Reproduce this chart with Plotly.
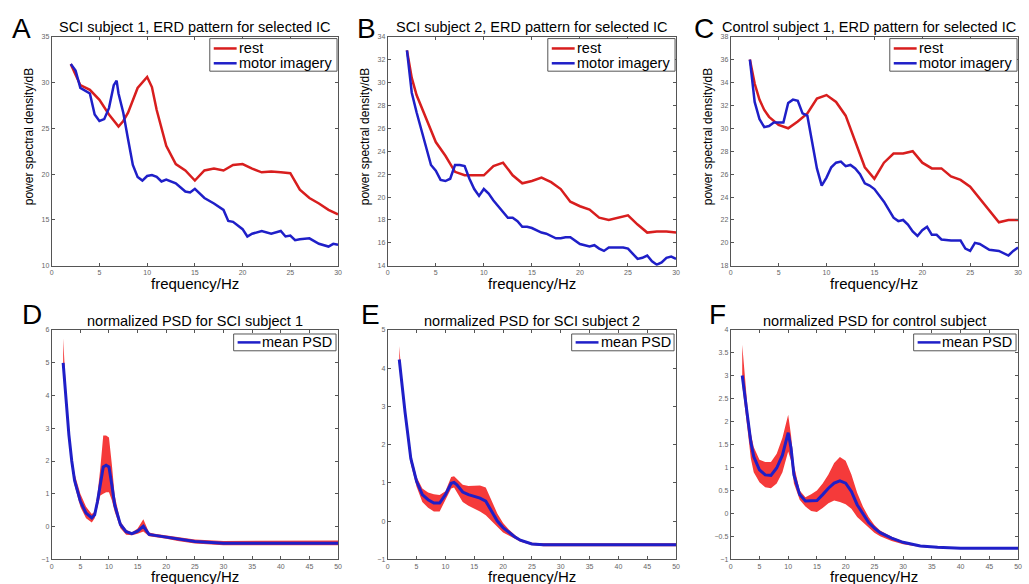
import plotly.graph_objects as go

# ---------------- ERD spectra (top row) ----------------
a_rest_f = [2, 3, 4, 5, 6, 7, 7.5, 8, 9, 10, 10.5, 11, 12, 13, 14, 15, 16, 17, 18, 19, 20,
            21, 22, 23, 24, 25, 26, 27, 28, 29, 30]
a_rest = [32.0, 29.7, 29.2, 28.1, 26.5, 25.2, 25.8, 26.7, 29.4, 30.6, 29.5, 27.0, 23.1, 21.1,
          20.4, 19.3, 20.4, 20.6, 20.4, 21.0, 21.1, 20.6, 20.2, 20.3, 20.2, 20.1, 18.3, 17.4,
          16.8, 16.1, 15.6]
a_mi_f = [2, 2.5, 3, 3.5, 4, 4.5, 5, 5.5, 6, 6.5, 6.8, 7, 7.5, 8, 8.5, 9, 9.5, 10, 10.5, 11,
          11.5, 12, 13, 14, 14.5, 15, 16, 17, 18, 18.5, 19, 20, 20.5, 21, 22, 23, 24, 24.5, 25,
          25.5, 26, 27, 28, 29, 29.5, 30]
a_mi = [32.0, 31.3, 29.4, 29.1, 28.8, 26.5, 25.8, 26.0, 27.2, 29.7, 30.2, 28.8, 26.7, 23.8,
        21.0, 19.7, 19.3, 19.8, 19.9, 19.7, 19.2, 19.4, 19.0, 18.1, 18.0, 18.4, 17.4, 16.8,
        16.1, 14.9, 14.8, 14.0, 13.2, 13.5, 13.8, 13.5, 13.8, 13.2, 13.3, 12.8, 12.9, 13.0,
        12.4, 12.1, 12.4, 12.3]

b_rest_f = [2, 2.5, 3, 4, 5, 6, 7, 8, 9, 10, 11, 12, 13, 14, 15, 16, 17, 18, 19, 20, 21, 22,
            23, 24, 25, 26, 27, 28, 29, 30]
b_rest = [32.8, 30.4, 28.9, 26.9, 24.8, 23.6, 22.2, 21.9, 21.9, 21.9, 22.7, 23.0, 21.9, 21.2,
          21.4, 21.7, 21.3, 20.7, 19.6, 19.2, 18.9, 18.2, 18.0, 18.2, 18.4, 17.6, 16.9, 17.0,
          17.0, 16.9]
b_mi_f = [2, 2.5, 3, 4, 4.5, 5, 5.5, 6, 6.5, 7, 7.5, 8, 8.5, 9, 9.5, 10, 10.5, 11, 12, 12.5,
          13, 13.5, 14, 14.5, 15, 16, 16.5, 17, 17.5, 18, 18.5, 19, 19.5, 20, 21, 21.5, 22,
          22.5, 23, 24, 24.5, 25, 25.5, 26, 26.5, 27, 27.5, 28, 28.5, 29, 29.5, 30]
b_mi = [32.8, 29.1, 27.4, 24.2, 22.8, 22.3, 21.5, 21.4, 21.6, 22.8, 22.8, 22.7, 21.6, 20.7,
        20.1, 20.7, 20.3, 19.7, 18.7, 18.2, 18.2, 17.9, 17.4, 17.4, 17.3, 16.9, 16.8, 16.6,
        16.4, 16.4, 16.5, 16.5, 16.2, 15.9, 15.7, 15.8, 15.5, 15.3, 15.6, 15.6, 15.6, 15.5,
        15.0, 14.6, 14.7, 14.9, 14.4, 14.1, 14.3, 14.7, 14.8, 14.6]

c_rest_f = [2, 2.5, 3, 3.5, 4, 5, 6, 7, 8, 9, 10, 11, 12, 13, 14, 15, 16, 17, 18, 19, 20, 21,
            22, 23, 24, 25, 26, 27, 28, 29, 30]
c_rest = [36.0, 33.9, 32.5, 31.6, 31.0, 30.3, 30.0, 30.6, 31.3, 32.6, 32.9, 32.3, 31.1, 28.8,
          26.6, 25.6, 27.0, 27.8, 27.8, 28.0, 27.0, 26.5, 26.5, 25.8, 25.5, 24.9, 23.9, 22.9,
          21.8, 22.0, 22.0]
c_mi_f = [2, 2.5, 3, 3.5, 4, 4.5, 5, 5.5, 6, 6.5, 7, 7.5, 8, 8.5, 9, 9.5, 10, 10.5, 11, 11.5,
          12, 12.5, 13, 13.5, 14, 14.5, 15, 16, 17, 17.5, 18, 18.5, 19, 19.5, 20, 20.5, 21,
          21.5, 22, 23, 24, 24.5, 25, 25.5, 26, 27, 28, 29, 29.5, 30]
c_mi = [36.0, 32.3, 30.8, 30.1, 30.2, 30.5, 30.5, 30.5, 32.2, 32.5, 32.4, 31.3, 31.1, 28.8,
        26.5, 25.0, 25.7, 26.6, 27.0, 27.1, 26.7, 26.8, 26.5, 26.0, 25.2, 25.0, 24.7, 23.6,
        22.2, 21.9, 22.0, 21.6, 21.0, 20.6, 21.1, 21.4, 20.7, 20.7, 20.3, 20.2, 20.2, 19.5,
        19.3, 20.0, 19.9, 19.4, 19.3, 18.9, 19.3, 19.6]

# ---------------- normalized PSD (bottom row) ----------------
d_f = [2, 2.5, 3, 3.5, 4, 5, 6, 7, 7.5, 8, 8.5, 9, 9.5, 10, 10.5, 11, 12, 13, 14, 15, 16, 17,
       18, 20, 22, 25, 30, 35, 40, 50]
d_mean = [5.0, 3.9, 2.8, 2.0, 1.4, 0.77, 0.41, 0.26, 0.36, 0.77, 1.37, 1.82, 1.87, 1.82, 1.27,
          0.66, 0.06, -0.16, -0.22, -0.14, 0.01, -0.24, -0.27, -0.32, -0.39, -0.46, -0.51,
          -0.51, -0.51, -0.51]
d_upper = [5.75, 4.1, 2.95, 2.15, 1.6, 1.0, 0.6, 0.38, 0.45, 1.0, 1.8, 2.78, 2.78, 2.72, 1.9,
           0.95, 0.15, -0.1, -0.18, -0.06, 0.22, -0.18, -0.22, -0.27, -0.33, -0.4, -0.44,
           -0.44, -0.43, -0.43]
d_lower = [4.95, 3.7, 2.65, 1.85, 1.25, 0.6, 0.25, 0.12, 0.25, 0.6, 0.95, 1.0, 1.05, 1.05, 0.8,
           0.45, -0.05, -0.25, -0.27, -0.22, -0.15, -0.3, -0.32, -0.37, -0.44, -0.52, -0.57,
           -0.57, -0.57, -0.57]

e_f = [2, 2.5, 3, 3.5, 4, 5, 6, 7, 8, 9, 10, 11, 11.5, 12, 13, 14, 15, 16, 17, 18, 19, 20, 21,
       22, 23, 24, 25, 27, 30, 50]
e_mean = [4.23, 3.45, 2.85, 2.25, 1.64, 1.04, 0.69, 0.56, 0.47, 0.47, 0.69, 0.99, 1.01, 0.95,
          0.76, 0.69, 0.65, 0.60, 0.52, 0.26, 0.0, -0.17, -0.30, -0.41, -0.50, -0.56, -0.60,
          -0.62, -0.62, -0.62]
e_upper = [4.58, 3.6, 2.95, 2.35, 1.75, 1.15, 0.85, 0.75, 0.7, 0.68, 0.78, 1.15, 1.17, 1.1,
           0.95, 0.92, 0.92, 0.93, 0.88, 0.55, 0.2, -0.05, -0.22, -0.36, -0.47, -0.53, -0.57,
           -0.58, -0.58, -0.58]
e_lower = [4.1, 3.3, 2.7, 2.1, 1.5, 0.9, 0.5, 0.35, 0.25, 0.25, 0.55, 0.85, 0.88, 0.75, 0.5,
           0.4, 0.33, 0.25, 0.15, 0.0, -0.15, -0.3, -0.38, -0.47, -0.54, -0.59, -0.63, -0.66,
           -0.66, -0.66]

f_f = [2, 2.5, 3, 3.5, 4, 5, 6, 7, 8, 9, 10, 10.5, 11, 12, 13, 14, 15, 16, 17, 18, 19, 20, 21,
       22, 23, 24, 25, 26, 28, 30, 33, 36, 40, 50]
f_mean = [3.01, 2.5, 1.99, 1.56, 1.24, 0.95, 0.84, 0.83, 0.99, 1.27, 1.76, 1.42, 0.84, 0.41,
          0.27, 0.27, 0.28, 0.41, 0.55, 0.66, 0.71, 0.66, 0.48, 0.19, -0.02, -0.2, -0.32,
          -0.42, -0.54, -0.63, -0.71, -0.74, -0.76, -0.76]
f_upper = [3.68, 2.9, 2.2, 1.75, 1.45, 1.17, 1.12, 1.12, 1.3, 1.65, 2.15, 1.7, 1.05, 0.5, 0.35,
           0.42, 0.5, 0.65, 0.85, 1.1, 1.23, 1.15, 0.85, 0.45, 0.15, -0.08, -0.25, -0.37,
           -0.51, -0.61, -0.7, -0.73, -0.75, -0.75]
f_lower = [2.8, 2.2, 1.75, 1.2, 0.9, 0.68, 0.57, 0.55, 0.65, 0.9, 1.35, 1.15, 0.65, 0.3, 0.15,
           0.05, 0.03, 0.12, 0.22, 0.28, 0.25, 0.2, 0.1, -0.08, -0.2, -0.32, -0.42, -0.5, -0.6,
           -0.67, -0.73, -0.76, -0.77, -0.77]

top_titles = ["SCI subject 1, ERD pattern for selected IC",
              "SCI subject 2, ERD pattern for selected IC",
              "Control subject 1, ERD pattern for selected IC"]
bottom_titles = ["normalized PSD for SCI subject 1",
                 "normalized PSD for SCI subject 2",
                 "normalized PSD for control subject"]
letters = ["A", "B", "C", "D", "E", "F"]
top_series_names = ["rest", "motor imagery"]
bottom_series_name = "mean PSD"

top_y_ranges = [(10, 35, 5), (14, 34, 2), (18, 38, 2)]
bottom_y_ranges = [(-1, 6, 1), (-1, 5, 1), (-1, 4, 0.5)]

RED = "#d81e1e"
BLUE = "#1f1fc8"
BAND = "#f53a3a"
AXIS = "#555"
W, H = 1029, 584
FONT = "Liberation Sans, Arial, sans-serif"

# pixel boxes of the six panels: (left, right) per column, (top, bottom) per row
col_px = [(50, 338), (388, 678), (733, 1022)]
row_px = [(33, 265), (330, 562)]
letter_px = [(10, 25), (357, 25), (696, 25), (20, 314), (361, 314), (711, 314)]

fig = go.Figure()
layout = dict(width=W, height=H, margin=dict(l=0, r=0, t=0, b=0),
              paper_bgcolor="white", plot_bgcolor="white", showlegend=False)
annotations = []
shapes = []


def px_x(x):
    return x / W


def px_y(y):
    return 1 - y / H


def label(x, y, text, size, angle=0, xanchor="center"):
    return dict(x=px_x(x), y=px_y(y), xref="paper", yref="paper", text=text,
                showarrow=False, xanchor=xanchor, yanchor="middle", textangle=angle,
                font=dict(family=FONT, size=size, color="black"))


def axis_style(dom, rng, dtick, anchor):
    return dict(domain=dom, range=list(rng), dtick=dtick, tick0=rng[0], anchor=anchor,
                showgrid=False, zeroline=False, showline=True, linecolor=AXIS,
                linewidth=1, mirror="ticks", ticks="inside", ticklen=3, tickcolor=AXIS,
                tickfont=dict(family=FONT, size=7, color="#666"))


def legend_box(x0, x1, y0, y1, entries):
    """Boxed key in the top-right corner of a panel: entries are (name, colour, row_y)."""
    shapes.append(dict(type="rect", xref="paper", yref="paper",
                       x0=px_x(x0), x1=px_x(x1), y0=px_y(y1), y1=px_y(y0),
                       line=dict(color=AXIS, width=1), fillcolor="white", layer="above"))
    for name, color, ry in entries:
        shapes.append(dict(type="line", xref="paper", yref="paper",
                           x0=px_x(x0 + 4), x1=px_x(x0 + 27), y0=px_y(ry), y1=px_y(ry),
                           line=dict(color=color, width=2.5), layer="above"))
        annotations.append(label(x0 + 27, ry, name, 14.5, xanchor="left"))


top_data = [
    (a_rest_f, a_rest, a_mi_f, a_mi),
    (b_rest_f, b_rest, b_mi_f, b_mi),
    (c_rest_f, c_rest, c_mi_f, c_mi),
]
bottom_data = [
    (d_f, d_mean, d_upper, d_lower),
    (e_f, e_mean, e_upper, e_lower),
    (f_f, f_mean, f_upper, f_lower),
]

idx = 0
for r in range(2):
    for c in range(3):
        idx += 1
        xa = "x" if idx == 1 else f"x{idx}"
        ya = "y" if idx == 1 else f"y{idx}"
        xkey = "xaxis" if idx == 1 else f"xaxis{idx}"
        ykey = "yaxis" if idx == 1 else f"yaxis{idx}"
        left, right = col_px[c]
        top, bottom = row_px[r]
        xdom = [px_x(left), px_x(right)]
        ydom = [px_y(bottom), px_y(top)]
        if r == 0:
            xr, xd = (0, 30), 5
            y0, y1, yd = top_y_ranges[c]
        else:
            xr, xd = (0, 50), 5
            y0, y1, yd = bottom_y_ranges[c]
        layout[xkey] = axis_style(xdom, xr, xd, ya)
        layout[ykey] = axis_style(ydom, (y0, y1), yd, xa)

        if r == 0:
            rf, rv, mf, mv = top_data[c]
            fig.add_trace(go.Scatter(x=rf, y=rv, mode="lines", name=top_series_names[0],
                                     line=dict(color=RED, width=2.5), xaxis=xa, yaxis=ya))
            fig.add_trace(go.Scatter(x=mf, y=mv, mode="lines", name=top_series_names[1],
                                     line=dict(color=BLUE, width=2.5), xaxis=xa, yaxis=ya))
            legend_box(right - 129, right - 1, top + 2, top + 35,
                       [(top_series_names[0], RED, top + 12),
                        (top_series_names[1], BLUE, top + 27)])
        else:
            ff, fm, fu, fl = bottom_data[c]
            fig.add_trace(go.Scatter(x=ff, y=fu, mode="lines", line=dict(width=0, color=BAND),
                                     xaxis=xa, yaxis=ya, hoverinfo="skip"))
            fig.add_trace(go.Scatter(x=ff, y=fl, mode="lines", line=dict(width=0, color=BAND),
                                     fill="tonexty", fillcolor=BAND,
                                     xaxis=xa, yaxis=ya, hoverinfo="skip"))
            fig.add_trace(go.Scatter(x=ff, y=fm, mode="lines", name=bottom_series_name,
                                     line=dict(color=BLUE, width=3), xaxis=xa, yaxis=ya))
            legend_box(right - 105, right - 2, top + 4, top + 21,
                       [(bottom_series_name, BLUE, top + 12.5)])

        cx = (left + right) / 2
        title = top_titles[c] if r == 0 else bottom_titles[c]
        # panel title, panel letter and axis titles
        ty = top - 10 if r == 0 else top - 9
        if r == 0 and c == 2:
            annotations.append(label(left - 11, ty, title, 14.5, xanchor="left"))
        else:
            annotations.append(label(cx, ty, title, 14.5))
        lx, ly = letter_px[idx - 1]
        annotations.append(label(lx - 2, ly, letters[idx - 1], 28, xanchor="left"))
        annotations.append(label(cx, bottom + 17.5, "frequency/Hz", 15))
        if r == 0:
            annotations.append(label(left - 22, (top + bottom) / 2 - 15,
                                     "power spectral density/dB", 12, angle=-90))

layout["annotations"] = annotations
layout["shapes"] = shapes
fig.update_layout(**layout)
fig.write_html("out.html")
